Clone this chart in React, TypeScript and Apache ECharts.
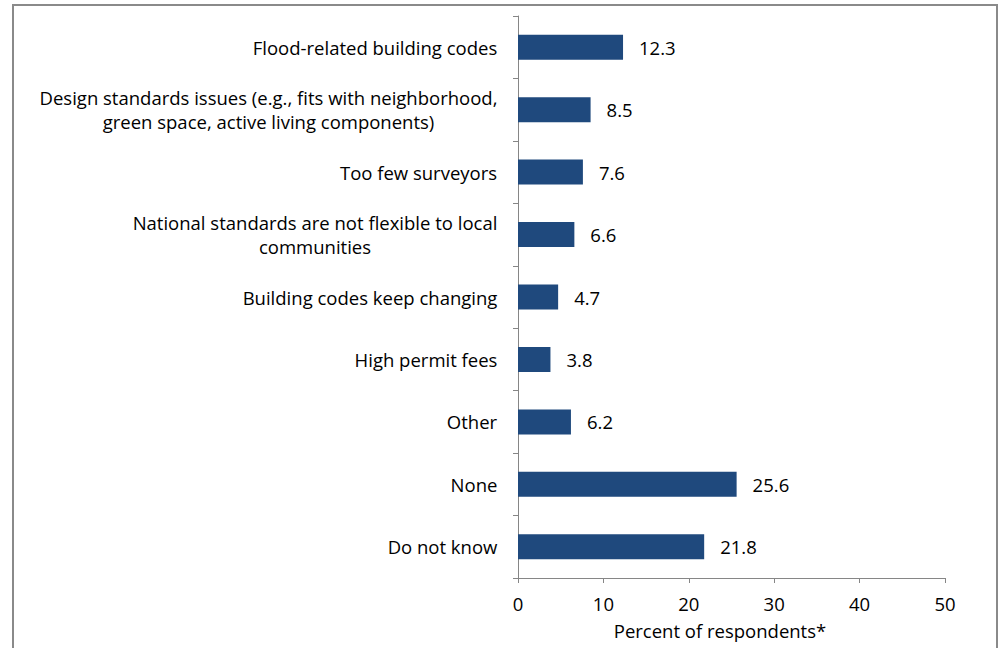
import React, { useEffect, useRef } from "react";
import * as echarts from "echarts";

const categories: string[] = [
  "Flood-related building codes",
  "Design standards issues (e.g., fits with neighborhood,\ngreen space, active living components)",
  "Too few surveyors",
  "National standards are not flexible to local\ncommunities",
  "Building codes keep changing",
  "High permit fees",
  "Other",
  "None",
  "Do not know",
];
const values: number[] = [12.3, 8.5, 7.6, 6.6, 4.7, 3.8, 6.2, 25.6, 21.8];
const xTicks: number[] = [0, 10, 20, 30, 40, 50];
const axisTitle = "Percent of respondents*";

const FONT = "Open Sans";
const FS = 18.5;

export default function App() {
  const ref = useRef<HTMLDivElement>(null);
  useEffect(() => {
    if (!ref.current) return;
    const chart = echarts.init(ref.current, null, { renderer: "svg" });
    const canvas = document.createElement("canvas");
    const ctx = canvas.getContext("2d")!;
    ctx.font = `${FS}px "${FONT}"`;
    const rich: Record<string, any> = {};
    categories.forEach((c, i) => {
      const w = Math.max(...c.split("\n").map((l) => ctx.measureText(l).width));
      rich["l" + i] = {
        width: Math.ceil(w) + 1,
        align: "center",
        fontSize: FS,
        fontFamily: FONT,
        color: "#000",
        lineHeight: 24,
      };
    });
    chart.setOption({
      animation: false,
      graphic: [
        {
          type: "rect",
          shape: { x: 13, y: 5, width: 984, height: 700 },
          style: { fill: "none", stroke: "#8a8a8a", lineWidth: 2 },
          silent: true,
        },
      ],
      grid: { left: 518, top: 16, right: 58, bottom: 70, containLabel: false },
      xAxis: {
        type: "value",
        min: xTicks[0],
        max: xTicks[xTicks.length - 1],
        interval: 10,
        splitLine: { show: false },
        axisLine: { show: true, lineStyle: { color: "#868686", width: 1 } },
        axisTick: { show: true, length: 5, lineStyle: { color: "#868686" } },
        axisLabel: { fontSize: FS, fontFamily: FONT, color: "#000", margin: 16 },
        name: axisTitle,
        nameLocation: "middle",
        nameGap: 43,
        nameTextStyle: { fontSize: FS, fontFamily: FONT, color: "#000", padding: [0, 23, 0, 0] },
      },
      yAxis: {
        type: "category",
        data: categories,
        inverse: true,
        axisLine: { show: true, lineStyle: { color: "#868686", width: 1 } },
        axisTick: { show: true, length: 5, lineStyle: { color: "#868686" } },
        axisLabel: {
          margin: 20,
          formatter: (v: string, i: number) =>
            v.split("\n").map((l) => `{l${i}|${l}}`).join("\n"),
          rich,
        },
      },
      series: [
        {
          type: "bar",
          data: values,
          barWidth: 25,
          itemStyle: { color: "#1F497D" },
          label: {
            show: true,
            position: "right",
            distance: 16,
            fontSize: FS,
            fontFamily: FONT,
            color: "#000",
            formatter: (p: any) => p.value.toFixed(1),
          },
        },
      ],
    });
    return () => chart.dispose();
  }, []);
  return (
    <div
      ref={ref}
      style={{ position: "fixed", left: 0, top: 0, width: 1003, height: 648, background: "#fff" }}
    />
  );
}
